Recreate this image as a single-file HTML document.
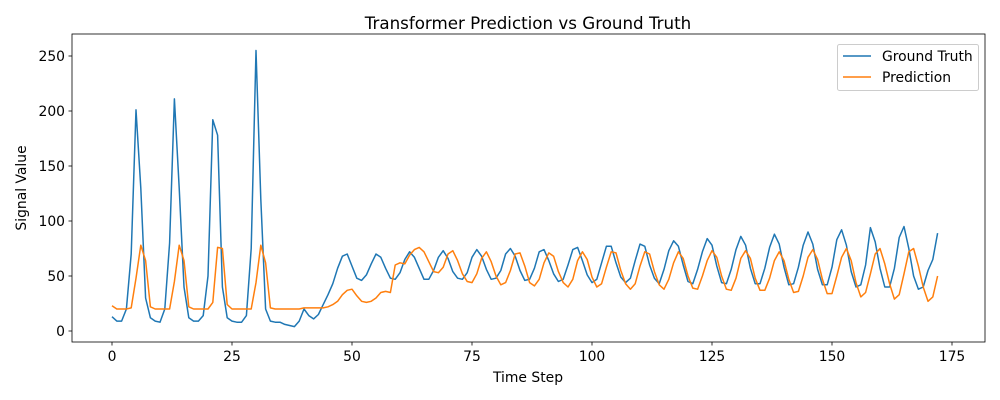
<!DOCTYPE html>
<html><head><meta charset="utf-8"><style>html,body{margin:0;padding:0;background:#fff}svg{display:block;font-family:"DejaVu Sans","Liberation Sans",sans-serif}</style></head>
<body>
<svg id="chart" width="1000" height="400" viewBox="0 0 1000 400" xmlns="http://www.w3.org/2000/svg">
<rect width="1000" height="400" fill="#fff"/>
<text x="528" y="29" font-size="16.7" text-anchor="middle">Transformer Prediction vs Ground Truth</text>
<g id="plot"></g>
<rect x="72" y="34" width="913" height="308" fill="none" stroke="#000" stroke-width="0.8"/>
<text x="528" y="382" font-size="13.9" text-anchor="middle">Time Step</text>
<text transform="translate(26,188) rotate(-90)" font-size="13.9" text-anchor="middle">Signal Value</text>
<g>
<rect x="837.5" y="44.5" width="141" height="46" rx="2" fill="#fff" fill-opacity="0.8" stroke="#ccc"/>
<line x1="843" y1="56" x2="871" y2="56" stroke="#1f77b4" stroke-width="1.5"/>
<text x="882" y="61" font-size="13.9">Ground Truth</text>
<line x1="843" y1="77" x2="871" y2="77" stroke="#ff7f0e" stroke-width="1.5"/>
<text x="882" y="82" font-size="13.9">Prediction</text>
</g>
</svg>
<script>
const groundTruth=[13,9,9,20,70,201,130,30,12,9,
8,20,80,211,130,40,12,9,9,14,
50,192,178,40,12,9,8,8,14,75,
255,120,20,9,8,8,6,5,4,9,
20,14,11,15,24,33,43,57,68,70,
59,48,46,51,61,70,67,57,48,47,
53,65,72,67,57,47,47,55,67,73,
66,54,48,47,53,67,74,68,56,47,
48,55,70,75,68,55,46,47,57,72,
74,64,52,45,47,60,74,76,64,51,
44,47,62,77,77,62,49,44,48,64,
79,77,60,48,43,56,73,82,77,60,
45,43,56,72,84,78,59,44,43,56,
74,86,78,57,43,43,57,76,88,79,
58,42,43,58,78,90,79,56,42,42,
58,83,92,78,54,40,42,60,94,81,
57,40,40,57,85,95,75,50,38,40,
55,65,89];
const prediction=[23,20,20,20,21,48,78,64,22,20,
20,20,20,45,78,64,22,20,20,20,
20,26,76,75,24,20,20,20,20,20,
44,78,62,21,20,20,20,20,20,20,
21,21,21,21,21,22,24,27,33,37,
38,32,27,26,27,30,35,36,35,60,
62,61,69,74,76,72,63,54,53,58,
70,73,64,52,45,44,52,66,72,63,
50,42,44,55,70,71,59,44,41,47,
62,71,68,54,44,40,47,64,72,65,
49,40,43,58,72,71,55,43,38,43,
59,72,70,54,42,38,47,62,72,66,
50,39,38,50,64,73,67,50,38,37,
48,66,73,66,48,37,37,48,64,72,
64,47,35,36,50,67,74,65,47,34,
34,50,67,75,64,44,31,35,52,70,
75,61,43,29,33,52,72,75,59,40,
27,31,50];
const xTicks=[0,25,50,75,100,125,150,175];
const yTicks=[0,50,100,150,200,250];
const X=t=>112+t*4.8;
const Y=v=>331-v*1.1;
const NS="http://www.w3.org/2000/svg";
const g=document.getElementById('plot');
function mk(tag,attrs){const e=document.createElementNS(NS,tag);for(const k in attrs)e.setAttribute(k,attrs[k]);g.appendChild(e);return e;}
xTicks.forEach(t=>{
  const l=mk('line',{x1:X(t),x2:X(t),y1:342,y2:345.5,stroke:'#000','stroke-width':0.8});
  
  
  const tx=mk('text',{x:X(t),y:361,'font-size':13.9,'text-anchor':'middle'});
  tx.textContent=t;
  
  
});
yTicks.forEach(v=>{
  const l=mk('line',{x1:68.5,x2:72,y1:Y(v),y2:Y(v),stroke:'#000','stroke-width':0.8});
  
  
  const tx=mk('text',{x:65,y:Y(v)+5,'font-size':13.9,'text-anchor':'end'});
  tx.textContent=v;
  
  
});
function series(arr,color,name){
  const p=mk('polyline',{points:arr.map((v,i)=>X(i)+','+Y(v)).join(' '),fill:'none',stroke:color,'stroke-width':1.5,'stroke-linejoin':'round'});
  
  
}
series(groundTruth,'#1f77b4','ground-truth-line');
series(prediction,'#ff7f0e','prediction-line');
</script>
</body></html>
